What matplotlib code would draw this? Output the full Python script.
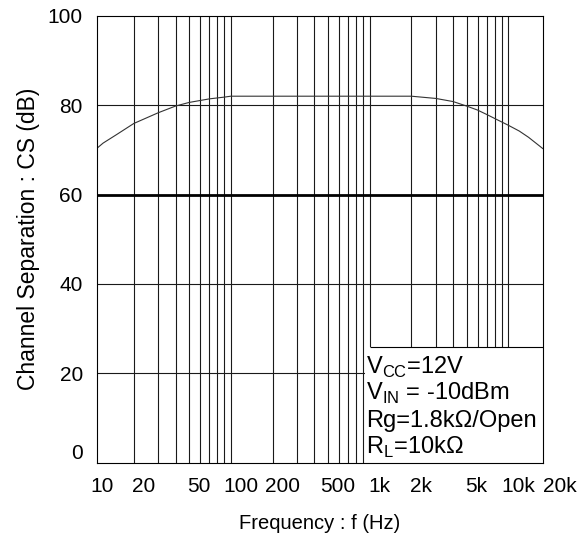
import matplotlib
matplotlib.use("Agg")
import matplotlib.pyplot as plt
import matplotlib.transforms as mtransforms
from matplotlib.patches import Rectangle

plt.rcParams["font.family"] = ["Liberation Sans", "DejaVu Sans"]
plt.rcParams["mathtext.fontset"] = "custom"
plt.rcParams["mathtext.rm"] = "Liberation Sans"

# curve
freq_hz = [10.8, 12, 15, 20, 30, 40, 50, 70, 90, 100, 200, 500, 1000, 2000,
           3000, 4000, 5000, 6000, 7000, 8000, 10000, 12000, 14000, 17700]
cs_db = [70.3, 71.5, 73.4, 75.9, 78.3, 79.8, 80.6, 81.4, 81.8, 82.0, 82.0, 82.0, 82.0, 82.0,
         81.5, 80.8, 79.8, 78.9, 77.9, 77.0, 75.5, 74.2, 72.8, 70.3]

xtick_vals = [10, 20, 50, 100, 200, 500, 1000, 2000, 5000, 10000, 20000]
xtick_labels = ["10", "20", "50", "100", "200", "500", "1k", "2k", "5k", "10k", "20k"]
ytick_vals = [0, 20, 40, 60, 80, 100]

conditions = [
    r"V$_{\mathrm{CC}}$=12V",
    r"V$_{\mathrm{IN}}$ = -10dBm",
    "Rg=1.8kΩ/Open",
    r"R$_{\mathrm{L}}$=10kΩ",
]

fig = plt.figure(figsize=(5.85, 5.41), dpi=100)
ax = fig.add_axes([0.1653, 0.1447, 0.7624, 0.8262])
ax.set_xscale("log")
ax.set_xlim(10.8, 17700)
ax.set_ylim(0, 100)

# grid drawn by hand: every 1..9 step of each decade
for dec in (10, 100, 1000):
    for m in range(2, 11):
        ax.axvline(dec * m, color="#1a1a1a", lw=0.8, zorder=1)
for y in (20, 40, 80):
    ax.axhline(y, color="#1a1a1a", lw=0.8, zorder=1)
ax.axhline(60, color="black", lw=2.0, zorder=1)

ax.plot(freq_hz, cs_db, color="#333333", lw=0.8, zorder=3)

# conditions box in the lower right corner
xmax = ax.get_xlim()[1]
ax.add_patch(Rectangle((926, 0), xmax - 926, 26, facecolor="white", edgecolor="none", zorder=4))
ax.hlines(26, 1000, xmax, color="black", lw=0.8, zorder=5)
for i, line in enumerate(conditions):
    ax.text(940, 21.4 - i * 6.0, line, fontsize=17, ha="left", va="center", zorder=6)

for s in ax.spines.values():
    s.set_linewidth(0.8)
    s.set_zorder(5)

ax.tick_params(axis="x", which="both", bottom=False, labelbottom=False)
ax.set_yticks(ytick_vals)
ax.tick_params(axis="y", which="both", length=0, pad=10, labelsize=15)
ax.get_yticklabels()[0].set_va("bottom")

# x labels sit a little right of their grid lines in the original
trans = mtransforms.blended_transform_factory(ax.transData, ax.transAxes) + \
    mtransforms.ScaledTranslation(0.1, -0.235, fig.dpi_scale_trans)
for v, lab in zip(xtick_vals, xtick_labels):
    ax.text(v, 0, lab, transform=trans, ha="center", va="center", fontsize=15, clip_on=False)

ax.set_xlabel("Frequency : f (Hz)", fontsize=14.5)
ax.xaxis.set_label_coords(0.5, -0.135)
ax.xaxis.label.set_va("center")
ax.set_ylabel("Channel Separation : CS (dB)", fontsize=16.5)
ax.yaxis.set_label_coords(-0.154, 0.5)
ax.yaxis.label.set_va("center")

fig.savefig("out.png", dpi=100)
